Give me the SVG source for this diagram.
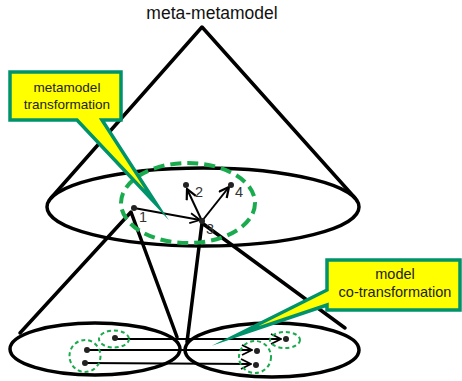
<svg xmlns="http://www.w3.org/2000/svg" width="462" height="381" viewBox="0 0 462 381">
<defs>
<style>
.thick{fill:none;stroke:#000;stroke-width:3.5;stroke-linecap:round;stroke-linejoin:round}
.gd{fill:none;stroke:#1aab4f;stroke-dasharray:4 3;stroke-width:2}
.gdb{fill:none;stroke:#1aab4f;stroke-dasharray:11 6;stroke-width:4}
.dot{fill:#222}
.arr{fill:none;stroke:#000;stroke-width:2}
.num{font-family:"Liberation Sans",Arial,sans-serif;font-size:14.5px;fill:#333}
.callout{fill:#ffff00;stroke:#00936b;stroke-width:3.5;stroke-linejoin:miter;stroke-miterlimit:30}
.ct{font-family:"Liberation Sans",Arial,sans-serif;font-size:13.5px;fill:#222;text-anchor:middle}
</style>
<marker id="chev" viewBox="0 0 12 12" refX="11" refY="6" markerWidth="12" markerHeight="12" markerUnits="userSpaceOnUse" orient="auto">
<path d="M1,1 L11,6 L1,11" fill="none" stroke="#000" stroke-width="1.8"/>
</marker>
<marker id="chev2" viewBox="0 0 12 12" refX="11" refY="6" markerWidth="12" markerHeight="12" markerUnits="userSpaceOnUse" orient="auto">
<path d="M1,1 L11,6 L1,11" fill="none" stroke="#000" stroke-width="2.2"/>
</marker>
</defs>
<rect width="462" height="381" fill="#fff"/>
<text x="212" y="19" font-family="Liberation Sans, Arial, sans-serif" font-size="17.5" text-anchor="middle" fill="#111">meta-metamodel</text>

<g id="connectors">
<ellipse class="thick" cx="203" cy="207" rx="156" ry="39"/>
<path class="thick" d="M51,198 L202,27 L355,198"/>
<ellipse class="thick" cx="95" cy="349" rx="85" ry="26"/>
<path class="thick" d="M20,333 L131,212 L177,337"/>
<ellipse class="thick" cx="272" cy="350" rx="87" ry="27"/>
<path class="thick" d="M187,342 L202,223 L345,328"/>
<line class="arr" x1="134" y1="208" x2="200" y2="220" stroke-width="1.6" marker-end="url(#chev)"/>
<line class="arr" x1="202" y1="221" x2="187" y2="189" stroke-width="2.4" marker-end="url(#chev2)"/>
<line class="arr" x1="202" y1="221" x2="229" y2="187" stroke-width="2.4" marker-end="url(#chev2)"/>
<line class="arr" x1="115" y1="339" x2="281" y2="339" stroke-width="1.8" marker-end="url(#chev)"/>
<line class="arr" x1="87" y1="350" x2="252" y2="350" stroke-width="1.8" marker-end="url(#chev)"/>
<line class="arr" x1="85" y1="363" x2="251" y2="364" stroke-width="1.8" marker-end="url(#chev)"/>
</g>

<g id="metamodel-group">
<ellipse class="gdb" cx="188" cy="203" rx="67" ry="40"/>
</g>
<g id="node1"><circle class="dot" cx="134" cy="208" r="3"/><text class="num" x="139" y="222">1</text></g>
<g id="node2"><circle class="dot" cx="186" cy="185" r="3"/><text class="num" x="195" y="197">2</text></g>
<g id="node3"><circle class="dot" cx="202" cy="221" r="3"/><text class="num" x="206" y="234">3</text></g>
<g id="node4"><circle class="dot" cx="231" cy="185" r="3"/><text class="num" x="235" y="197">4</text></g>

<g id="left-model">
<ellipse class="gd" cx="114" cy="339" rx="15" ry="8.5"/>
<ellipse class="gd" cx="85" cy="356" rx="15.5" ry="16"/>
<circle class="dot" cx="115" cy="338" r="3"/>
<circle class="dot" cx="87" cy="350" r="3"/>
<circle class="dot" cx="85" cy="363" r="3"/>
</g>
<g id="right-model">
<ellipse class="gd" cx="285" cy="340" rx="15" ry="8"/>
<ellipse class="gd" cx="255" cy="357" rx="16" ry="16"/>
<circle class="dot" cx="286" cy="339" r="3"/>
<circle class="dot" cx="257" cy="351" r="3"/>
<circle class="dot" cx="256" cy="365" r="3"/>
</g>

<g id="callout-metamodel">
<path class="callout" d="M10,72 H121 V120 H102 L157,205 L77,120 H10 Z"/>
<text class="ct" x="67" y="92">metamodel</text>
<text class="ct" x="67" y="109">transformation</text>
</g>
<g id="callout-model">
<path class="callout" d="M327,260 H460 V310 H327 V305 L235,336 L327,290 Z"/>
<text class="ct" x="395" y="279" style="font-size:14.5px">model</text>
<text class="ct" x="395" y="297" style="font-size:14.5px">co-transformation</text>
</g>
</svg>
